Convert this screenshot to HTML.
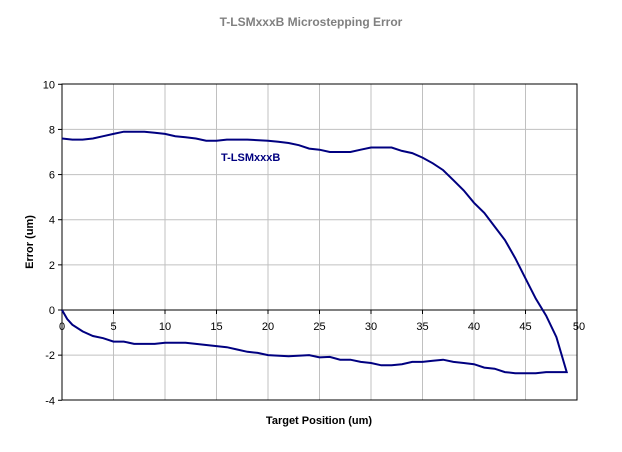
<!DOCTYPE html>
<html><head><meta charset="utf-8"><style>
body{margin:0;background:#fff;}
svg text{font-family:"Liberation Sans",Arial,sans-serif;}
</style></head><body>
<svg width="622" height="447" xmlns="http://www.w3.org/2000/svg">
<text x="311" y="26" text-anchor="middle" font-size="12" font-weight="bold" fill="#808080">T-LSMxxxB Microstepping Error</text>
<g id="grid"></g>
<g id="ticks"></g>
<rect x="62" y="84" width="515" height="316" fill="none" stroke="#000"/>
<line id="zero" stroke="#000" stroke-width="1"/>
<polyline id="series" fill="none" stroke="#000080" stroke-width="2"/>
<text x="221" y="161" font-size="11" font-weight="bold" fill="#000080">T-LSMxxxB</text>
<text x="319" y="424" text-anchor="middle" font-size="11" font-weight="bold" fill="#000">Target Position (um)</text>
<text transform="translate(33,242) rotate(-90)" text-anchor="middle" font-size="11" font-weight="bold" fill="#000">Error (um)</text>
</svg>
<script>
const xTicks=[0,5,10,15,20,25,30,35,40,45,50];
const yTicks=[-4,-2,0,2,4,6,8,10];
const posX=[0,0.5,1,2,3,4,5,6,7,9,10,11,12,13,14,15,16,17,18,19,20,22,24,25,26,27,28,29,30,31,32,33,34,35,36,37,38,39,40,41,42,43,44,45,46,47,48,49,
48,47,46,45,44,43,42,41,40,39,38,37,36,35,34,33,32,31,30,29,28,26,25,24,23,22,21,20,18,16,15,14,13,12,11,10,9,8,6,5,4,3,2,1,0];
const errY=[0,-0.4,-0.65,-0.95,-1.15,-1.25,-1.4,-1.4,-1.5,-1.5,-1.45,-1.45,-1.45,-1.5,-1.55,-1.6,-1.65,-1.75,-1.85,-1.9,-2.0,-2.05,-2.0,-2.1,-2.08,-2.2,-2.2,-2.3,-2.35,-2.45,-2.45,-2.4,-2.3,-2.3,-2.25,-2.2,-2.3,-2.35,-2.4,-2.55,-2.6,-2.75,-2.8,-2.8,-2.8,-2.75,-2.75,-2.75,
-1.2,-0.25,0.5,1.4,2.3,3.1,3.7,4.3,4.75,5.3,5.75,6.2,6.5,6.75,6.95,7.05,7.2,7.2,7.2,7.1,7.0,7.0,7.1,7.15,7.3,7.4,7.45,7.5,7.55,7.55,7.5,7.5,7.6,7.65,7.7,7.8,7.85,7.9,7.9,7.8,7.7,7.6,7.55,7.55,7.6];
const X=v=>62+v*(515/50), Y=v=>310-v*(316/14);
const NS="http://www.w3.org/2000/svg";
const grid=document.getElementById('grid'), ticks=document.getElementById('ticks');
function mk(t,a,p){const e=document.createElementNS(NS,t);for(const k in a)e.setAttribute(k,a[k]);p.appendChild(e);return e;}
xTicks.forEach(v=>{
 if(v>0&&v<50){const l=mk('line',{x1:X(v),x2:X(v),y1:84,y2:400,stroke:'#c0c0c0'},grid);
 
 }
 const tk=mk('line',{x1:X(v),x2:X(v),y1:310,y2:314,stroke:'#000'},ticks);
 
 
 const t=mk('text',{x:X(v)+(v==50?2:0),y:330,'text-anchor':'middle','font-size':11},ticks);t.textContent=v;
 
 
});
yTicks.forEach(v=>{
 if(v>-4&&v<10){const l=mk('line',{x1:62,x2:577,y1:Y(v),y2:Y(v),stroke:'#c0c0c0'},grid);
 
 }
 const tk=mk('line',{x1:58,x2:62,y1:Y(v),y2:Y(v),stroke:'#000'},ticks);
 
 
 const t=mk('text',{x:55,y:Y(v)+4,'text-anchor':'end','font-size':11},ticks);t.textContent=v;
 
 
});
const z=document.getElementById('zero');
z.setAttribute('x1',62);z.setAttribute('x2',577);z.setAttribute('y1',Y(0));z.setAttribute('y2',Y(0));
document.getElementById('series').setAttribute('points',posX.map((x,i)=>X(x).toFixed(1)+','+Y(errY[i]).toFixed(1)).join(' '));
</script>
</body></html>
